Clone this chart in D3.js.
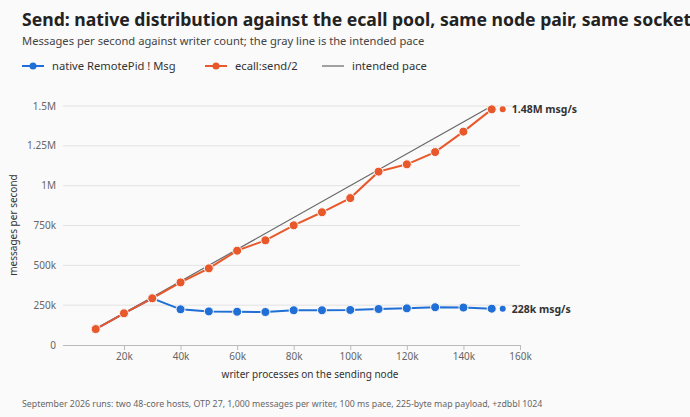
<!DOCTYPE html>
<html><head><meta charset="utf-8">
<script src="https://cdn.jsdelivr.net/npm/d3@7"></script>
<style>body{margin:0;background:#fafafa;font-family:"Noto Sans",sans-serif}</style>
</head><body><svg id="c" width="690" height="417"></svg>
<script>
const writers=[10,20,30,40,50,60,70,80,90,100,110,120,130,140,150];
const ecall=[100,199,293,393,481,592,657,751,833,922,1088,1134,1211,1339,1479];
const nativeS=[100,199,293,224,211,209,207,218,218,220,226,230,237,235,228];
const paceX=[10,150];
const paceY=[100,1500];
const yTicks=[0,250,500,750,1000,1250,1500];
const yTickLabels=["0","250k","500k","750k","1M","1.25M","1.5M"];
const xTicks=[20,40,60,80,100,120,140,160];
const svg=d3.select("#c");
svg.append("rect").attr("width",690).attr("height",417).attr("fill","#fafafa");
const x=d3.scaleLinear().domain([0,160]).range([67.4,520]);
const y=d3.scaleLinear().domain([0,1500]).range([345,106]);
svg.append("text").attr("x",22).attr("y",26).attr("font-size",17.6).attr("font-weight","bold").attr("fill","#222").text("Send: native distribution against the ecall pool, same node pair, same socket");
svg.append("text").attr("x",22).attr("y",45).attr("font-size",11.2).attr("fill","#444").text("Messages per second against writer count; the gray line is the intended pace");
const leg=[["native RemotePid ! Msg","#1f6fd6",true,22],["ecall:send/2","#e8582a",true,205],["intended pace","#666",false,322]];
leg.forEach(([t,c,dot,lx])=>{
 const g=svg.append("g");
 g.append("line").attr("x1",lx).attr("x2",lx+22).attr("y1",66).attr("y2",66).attr("stroke",c).attr("stroke-width",dot?2:1.2);
 if(dot)g.append("circle").attr("cx",lx+11).attr("cy",66).attr("r",3.5).attr("fill",c);
 g.append("text").attr("x",lx+30).attr("y",70).attr("font-size",11.2).attr("fill","#333").text(t);
});
svg.append("g").selectAll("line").data(yTicks.slice(1)).join("line")
 .attr("x1",63).attr("x2",520).attr("y1",d=>y(d)).attr("y2",d=>y(d)).attr("stroke","#e2e2e2");
svg.append("g").selectAll("text").data(yTicks).join("text")
 .attr("x",56).attr("y",d=>y(d)+3.5).attr("text-anchor","end").attr("font-size",10).attr("fill","#666").text((d,i)=>yTickLabels[i]);
svg.append("line").attr("x1",63).attr("x2",520).attr("y1",345.5).attr("y2",345.5).attr("stroke","#bbb");
const xa=svg.append("g").attr("transform","translate(0,345)").call(d3.axisBottom(x).tickValues(xTicks).tickFormat(d=>d+"k").tickSize(5).tickSizeOuter(0));
xa.select(".domain").attr("stroke","#bbb");
xa.selectAll(".tick line").attr("stroke","#bbb");
xa.selectAll("text").attr("font-size",10).attr("fill","#666").attr("font-family","Noto Sans");
svg.append("text").attr("x",310).attr("y",378).attr("text-anchor","middle").attr("font-size",10).attr("fill","#333").text("writer processes on the sending node");
svg.append("text").attr("transform","translate(17,225) rotate(-90)").attr("text-anchor","middle").attr("font-size",10).attr("fill","#333").text("messages per second");
svg.append("path").datum(paceX.map((v,i)=>[v,paceY[i]])).attr("d",d3.line().x(d=>x(d[0])).y(d=>y(d[1]))).attr("stroke","#666").attr("stroke-width",1.2).attr("fill","none");
function series(vals,c,label){
 const pts=writers.map((w,i)=>[w,vals[i]]);
 svg.append("path").datum(pts).attr("d",d3.line().x(d=>x(d[0])).y(d=>y(d[1]))).attr("stroke",c).attr("stroke-width",2).attr("fill","none");
 svg.append("g").selectAll("circle").data(pts).join("circle").attr("cx",d=>x(d[0])).attr("cy",d=>y(d[1])).attr("r",4.5).attr("fill",c).attr("stroke","#fafafa").attr("stroke-width",1);
 const l=pts[pts.length-1];
 svg.append("circle").attr("cx",x(l[0])+11).attr("cy",y(l[1])).attr("r",3).attr("fill",c);
 svg.append("text").attr("x",x(l[0])+20).attr("y",y(l[1])+4).attr("font-size",10.5).attr("font-weight","bold").attr("fill","#333").text(label);
}
series(nativeS,"#1f6fd6","228k msg/s");
series(ecall,"#e8582a","1.48M msg/s");
svg.append("text").attr("x",22).attr("y",407).attr("font-size",8.8).attr("fill","#666").text("September 2026 runs: two 48-core hosts, OTP 27, 1,000 messages per writer, 100 ms pace, 225-byte map payload, +zdbbl 1024");
</script></body></html>
